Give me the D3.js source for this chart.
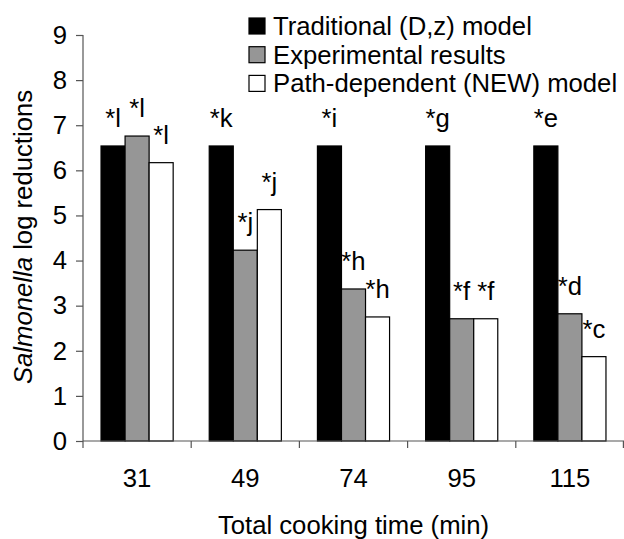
<!DOCTYPE html>
<html>
<head>
<meta charset="utf-8">
<script src="https://cdn.jsdelivr.net/npm/d3@7"></script>
<style>
  html, body { margin: 0; padding: 0; background: #fff; }
  svg { display: block; }
  text { font-family: Arial, "Liberation Sans", sans-serif; fill: #000; }
</style>
</head>
<body>
<svg id="chart" width="624" height="539"></svg>
<script>
// ---- data ----
const categories = ["31", "49", "74", "95", "115"];
const seriesNames = ["Traditional (D,z) model", "Experimental results", "Path-dependent (NEW) model"];
const traditional = [6.54, 6.54, 6.54, 6.54, 6.54];
const experimental = [6.76, 4.23, 3.37, 2.71, 2.82];
const pathDependent = [6.17, 5.13, 2.75, 2.71, 1.87];
const tradLabels = ["*l", "*k", "*i", "*g", "*e"];
const expLabels = ["*l", "*j", "*h", "*f", "*d"];
const newLabels = ["*l", "*j", "*h", "*f", "*c"];
const yTicks = [0, 1, 2, 3, 4, 5, 6, 7, 8, 9];
const xTitle = "Total cooking time (min)";
const yTitleItalic = "Salmonella";
const yTitleRest = " log reductions";

// ---- styles ----
const colors = ["#000000", "#969696", "#ffffff"];
const fontSize = 25.7;
const axisColor = "#555";

const seriesValues = [traditional, experimental, pathDependent];
const seriesLabels = [tradLabels, expLabels, newLabels];

const svg = d3.select("#chart");
const margin = { left: 83, right: 0, top: 35, bottom: 98 };
const W = 624, H = 539;

const x0 = d3.scaleBand().domain(categories).range([margin.left, W - margin.right]).padding(0);
const x1 = d3.scaleBand().domain(d3.range(3)).range([0, x0.bandwidth()]).paddingInner(0).paddingOuter(0.75);
const y = d3.scaleLinear().domain([0, 9]).range([H - margin.bottom, margin.top]);

// bars
const groups = svg.append("g").selectAll("g")
  .data(categories)
  .join("g")
  .attr("transform", d => `translate(${x0(d)},0)`);

groups.selectAll("rect")
  .data((d, i) => seriesValues.map((s, k) => ({ k, v: s[i], lab: seriesLabels[k][i] })))
  .join("rect")
  .attr("x", d => x1(d.k))
  .attr("width", x1.bandwidth())
  .attr("y", d => y(d.v))
  .attr("height", d => y(0) - y(d.v))
  .attr("fill", d => colors[d.k])
  .attr("stroke", "#000")
  .attr("stroke-width", 1.2);

groups.selectAll("text.lab")
  .data((d, i) => seriesValues.map((s, k) => ({ k, v: s[i], lab: seriesLabels[k][i] })))
  .join("text")
  .attr("class", "lab")
  .attr("x", d => x1(d.k) + x1.bandwidth() / 2)
  .attr("y", d => y(d.v) - 19)
  .attr("text-anchor", "middle")
  .style("font-size", fontSize + "px")
  .text(d => d.lab);

// y axis
const yAxis = svg.append("g")
  .attr("transform", `translate(${margin.left},0)`)
  .call(d3.axisLeft(y).tickValues(yTicks).tickSize(7).tickPadding(9).tickFormat(d3.format("d")));
yAxis.select(".domain").attr("stroke", axisColor).attr("stroke-width", 1.2).attr("d", `M0,${y(9)}V${y(0)}`);
yAxis.selectAll(".tick line").attr("stroke", axisColor).attr("stroke-width", 1.2);
yAxis.selectAll(".tick text").style("font-size", fontSize + "px").style("font-family", "Arial, 'Liberation Sans', sans-serif").attr("fill", "#000");

// x axis: labels at group centres, ticks at group boundaries
const xAxis = svg.append("g")
  .attr("transform", `translate(0,${y(0)})`)
  .call(d3.axisBottom(x0).tickSize(0).tickPadding(28));
xAxis.select(".domain").attr("stroke", axisColor).attr("stroke-width", 1.2).attr("d", `M${margin.left},0H${W}`);
xAxis.selectAll(".tick text").style("font-size", fontSize + "px").style("font-family", "Arial, 'Liberation Sans', sans-serif").attr("fill", "#000");
const boundaries = categories.map(c => x0(c)).concat([x0(categories[categories.length - 1]) + x0.bandwidth() - 0.6]);
xAxis.selectAll("line.bt")
  .data(boundaries)
  .join("line")
  .attr("class", "bt")
  .attr("x1", d => d).attr("x2", d => d)
  .attr("y1", 0).attr("y2", 7)
  .attr("stroke", axisColor).attr("stroke-width", 1.2);

// axis titles
svg.append("text")
  .attr("x", (margin.left + W) / 2)
  .attr("y", 534)
  .attr("text-anchor", "middle")
  .style("font-size", fontSize + "px")
  .text(xTitle);

const yt = svg.append("text")
  .attr("transform", `translate(32,237) rotate(-90)`)
  .attr("text-anchor", "middle")
  .style("font-size", fontSize + "px");
yt.append("tspan").style("font-style", "italic").text(yTitleItalic);
yt.append("tspan").text(yTitleRest);

// legend
const legend = svg.append("g");
const legRows = legend.selectAll("g")
  .data(seriesNames)
  .join("g")
  .attr("transform", (d, i) => `translate(249,${18 + i * 28.7})`);
legRows.append("rect")
  .attr("x", 0).attr("y", 0).attr("width", 16).attr("height", 16)
  .attr("fill", (d, i) => colors[i])
  .attr("stroke", "#000").attr("stroke-width", 1.2);
legRows.append("text")
  .attr("x", 24).attr("y", 17)
  .style("font-size", fontSize + "px")
  .text(d => d);
</script>
</body>
</html>
